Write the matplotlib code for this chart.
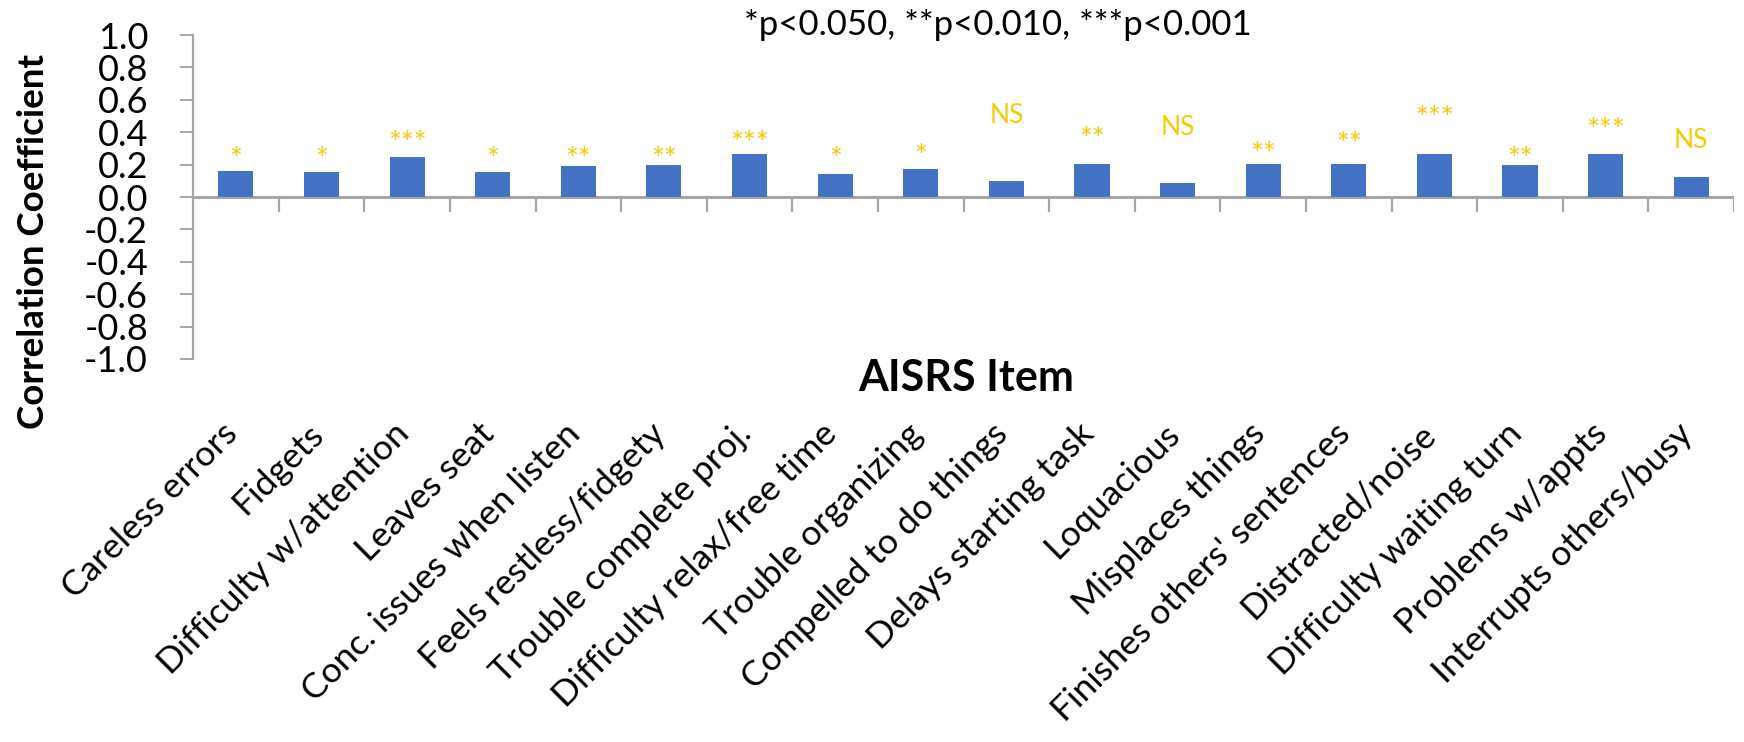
import matplotlib
matplotlib.use('Agg')
import matplotlib.pyplot as plt
import matplotlib.transforms as mtransforms
import numpy as np

# AISRS items and their correlation coefficients
items = ['Careless errors', 'Fidgets', 'Difficulty w/attention', 'Leaves seat',
         'Conc. issues when listen', 'Feels restless/fidgety', 'Trouble complete proj.',
         'Difficulty relax/free time', 'Trouble organizing', 'Compelled to do things',
         'Delays starting task', 'Loquacious', 'Misplaces things',
         "Finishes others' sentences", 'Distracted/noise', 'Difficulty waiting turn',
         'Problems w/appts', 'Interrupts others/busy']
coefs = [0.16, 0.155, 0.25, 0.153, 0.19, 0.20, 0.268, 0.142, 0.171,
         0.097, 0.204, 0.089, 0.204, 0.204, 0.268, 0.196, 0.264, 0.122]
signif = ['*', '*', '***', '*', '**', '**', '***', '*', '*',
          'NS', '**', 'NS', '**', '**', '***', '**', '***', 'NS']
# height where each significance mark sits
sig_y = [0.23, 0.23, 0.33, 0.23, 0.23, 0.23, 0.33, 0.23, 0.25,
         0.505, 0.35, 0.43, 0.26, 0.32, 0.48, 0.23, 0.41, 0.35]
yticks = [1.0, 0.8, 0.6, 0.4, 0.2, 0.0, -0.2, -0.4, -0.6, -0.8, -1.0]

plt.rcParams['font.family'] = ['Lato', 'DejaVu Sans']

bar_color = '#4472C4'
sig_color = '#F5CC0A'
axis_gray = '#A6A6A6'

fig = plt.figure(figsize=(17.44, 7.42), dpi=100)
ax = fig.add_axes([0.1107, 0.5162, 0.8836, 0.4366])

x = np.arange(len(items))
ax.bar(x, coefs, width=0.41, color=bar_color, zorder=3)

for xi, s, sy in zip(x, signif, sig_y):
    size = 19 if s == 'NS' else 22
    ax.text(xi, sy, s, ha='center', va='center', fontsize=size, color=sig_color)

ax.set_xlim(-0.5, len(items) - 0.5)
ax.set_ylim(-1.0, 1.0)

# zero line with category separators hanging below it
ax.axhline(0, color=axis_gray, lw=2.2, zorder=2)
ax.vlines(np.arange(len(items)) + 0.5, -0.093, 0, color=axis_gray, lw=1.6, zorder=2)

for side in ['top', 'right', 'bottom']:
    ax.spines[side].set_visible(False)
ax.spines['left'].set_color(axis_gray)
ax.spines['left'].set_linewidth(1.6)

ax.set_yticks(yticks)
ax.set_yticklabels(['%.1f' % v for v in yticks], fontsize=26)
ax.tick_params(axis='y', length=9.4, width=1.4, color=axis_gray, pad=23)

ax.set_xticks(x)
ax.set_xticklabels(items, rotation=45, ha='right', va='top', fontsize=25.5)
ax.tick_params(axis='x', length=0, pad=42)
# nudge the slanted labels a little to the right of the bar centres
shift = mtransforms.ScaledTranslation(8 / 100, 0, fig.dpi_scale_trans)
for lbl in ax.get_xticklabels():
    lbl.set_transform(lbl.get_transform() + shift)

fig.text(0.019, 0.675, 'Correlation Coefficient', rotation=90, ha='center', va='center',
         fontsize=26.5, fontweight='bold')
fig.text(0.554, 0.4906, 'AISRS Item', ha='center', va='center',
         fontsize=31, fontweight='bold')
fig.text(0.572, 0.966, '*p<0.050, **p<0.010, ***p<0.001', ha='center', va='center',
         fontsize=25)

plt.savefig('out.png', dpi=100)
plt.close()
